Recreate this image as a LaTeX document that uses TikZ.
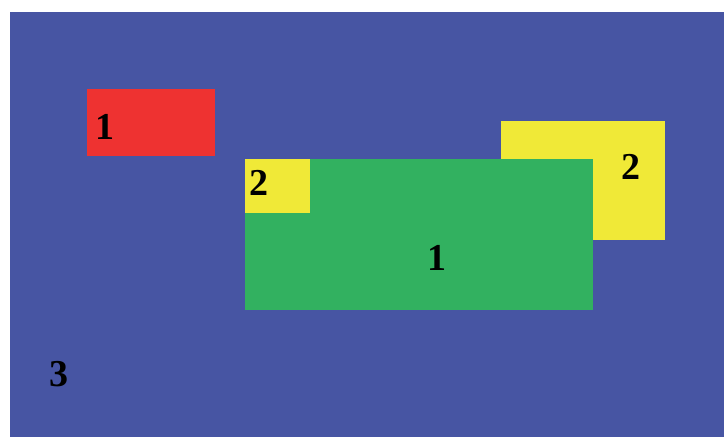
\documentclass[tikz,border=0pt]{standalone}
\usepackage{fontspec}
\setmainfont{Liberation Serif}
\usepackage{tikz}
\definecolor{fondo}{RGB}{71,85,163}
\definecolor{rojo}{RGB}{238,50,49}
\definecolor{amarillo}{RGB}{240,233,55}
\definecolor{verde}{RGB}{50,177,96}
\tikzset{etiq/.style={inner sep=0pt,font=\fontsize{38}{38}\selectfont\bfseries}}

\begin{document}
\begin{tikzpicture}[x=1pt,y=-1pt]
      \useasboundingbox (0,0) rectangle (724,437);
      % fondo
      \fill[fondo] (10,12) rectangle (724,437);
      % regiones
      \fill[rojo] (87,89) rectangle (215,156);
      \fill[amarillo] (501,121) rectangle (665,240);
      \fill[verde] (245,159) rectangle (593,310);
      \fill[amarillo] (245,159) rectangle (310,213);
      % etiquetas
      \node[etiq] (rojo1) at (105,127) {1};
      \node[etiq] (amar2a) at (259,183) {2};
      \node[etiq] (amar2b) at (631,167) {2};
      \node[etiq] (verde1) at (437,258) {1};
      \node[etiq] (fondo3) at (59,374) {3};
    \end{tikzpicture}
\end{document}
